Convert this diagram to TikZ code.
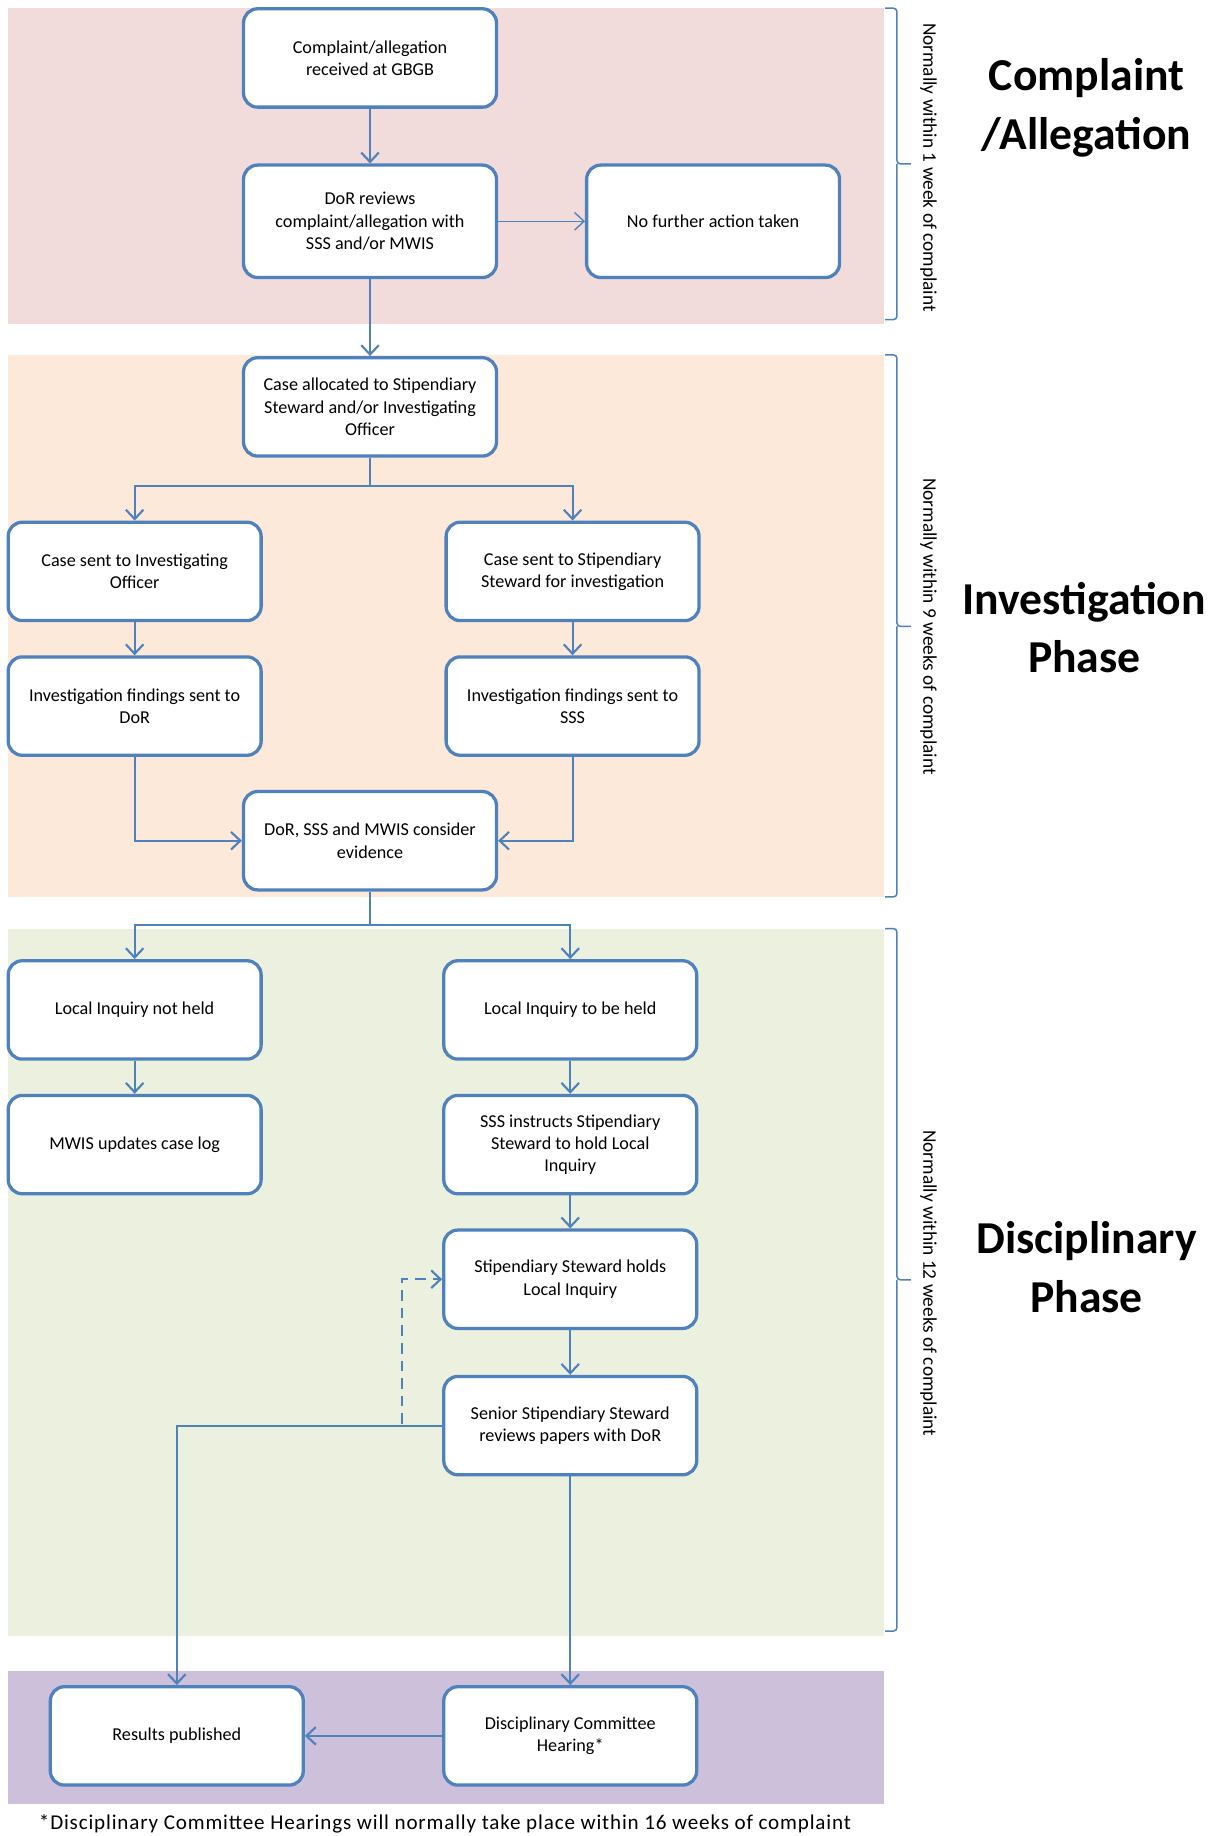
\documentclass[tikz,border=0pt]{standalone}
\usepackage{fontspec}
\setmainfont{Carlito}
\usetikzlibrary{arrows.meta}
\definecolor{flowblue}{HTML}{4F81BD}
\definecolor{pinkband}{HTML}{F2DCDB}
\definecolor{peachband}{HTML}{FDE9D9}
\definecolor{greenband}{HTML}{EBF1DE}
\definecolor{purpleband}{HTML}{CCC0DA}
\tikzset{
  stage/.style={draw=flowblue, line width=2.8pt, fill=white, rounded corners=12pt,
    minimum width=216pt, minimum height=84pt, align=center,
    font=\fontsize{15.5}{19}\selectfont},
  flow/.style={draw=flowblue, line width=1.8pt, -{Straight Barb[length=8pt,width=15pt]}},
  bracket/.style={draw=flowblue, line width=1.3pt, rounded corners=3pt},
  span/.style={rotate=-90, font=\fontsize{16.5}{18}\selectfont},
  phase/.style={align=center, font=\fontsize{39}{50}\selectfont\bfseries}
}
\begin{document}
\begin{tikzpicture}[x=1pt, y=-1pt, color = {black}]
    \useasboundingbox (0,0) rectangle (1042,1568);
    \fill[pinkband] (7,7) rectangle (755,277);
    \fill[peachband] (7,303) rectangle (755,766);
    \fill[greenband] (7,793) rectangle (755,1397);
    \fill[purpleband] (7,1427) rectangle (755,1541);

    \node[stage] (recv) at (316,49.5) {Complaint/allegation\\received at GBGB};
    \node[stage, minimum height=96pt] (review) at (316,189) {DoR reviews\\complaint/allegation with\\SSS and/or MWIS};
    \node[stage, minimum height=96pt] (nofurther) at (609,189) {No further action taken};
    \node[stage] (alloc) at (316,347.5) {Case allocated to Stipendiary\\Steward and/or Investigating\\Officer};
    \node[stage] (sentio) at (115,488) {Case sent to Investigating\\Officer};
    \node[stage] (sentss) at (489,488) {Case sent to Stipendiary\\Steward for investigation};
    \node[stage] (finddor) at (115,603) {Investigation findings sent to\\DoR};
    \node[stage] (findsss) at (489,603) {Investigation findings sent to\\SSS};
    \node[stage] (consider) at (316,718) {DoR, SSS and MWIS consider\\evidence};
    \node[stage] (notheld) at (115,862.5) {Local Inquiry not held};
    \node[stage] (beheld) at (487,862.5) {Local Inquiry to be held};
    \node[stage] (mwis) at (115,977.5) {MWIS updates case log};
    \node[stage] (instructs) at (487,977.5) {SSS instructs Stipendiary\\Steward to hold Local\\Inquiry};
    \node[stage] (holds) at (487,1092.5) {Stipendiary Steward holds\\Local Inquiry};
    \node[stage] (senior) at (487,1217.5) {Senior Stipendiary Steward\\reviews papers with DoR};
    \node[stage] (results) at (151,1482.5) {Results published};
    \node[stage] (hearing) at (487,1482.5) {Disciplinary Committee\\Hearing*};

    \coordinate (split1) at (316,415);
    \coordinate (split2) at (316,790);
    \coordinate (loop) at (343,1216);
    \draw[flow] (recv) -- (review);
    \draw[flow, line width=1.2pt] (review) -- (nofurther);
    \draw[flow] (review) -- (alloc);
    \draw[flow] (alloc.south) -- (split1) -| (sentio.north);
    \draw[flow] (split1) -| (sentss.north);
    \draw[flow] (sentio) -- (finddor);
    \draw[flow] (sentss) -- (findsss);
    \draw[flow] (finddor.south) |- (consider.west);
    \draw[flow] (findsss.south) |- (consider.east);
    \draw[flow] (consider.south) -- (split2) -| (notheld.north);
    \draw[flow] (split2) -| (beheld.north);
    \draw[flow] (notheld) -- (mwis);
    \draw[flow] (beheld) -- (instructs);
    \draw[flow] (instructs) -- (holds);
    \draw[flow] (holds) -- (senior);
    \draw[flow, dash pattern=on 9pt off 6pt] (loop) |- (holds.west);
    \draw[flow] (senior.west) -| (results.north);
    \draw[flow] (senior) -- (hearing);
    \draw[flow] (hearing) -- (results);

    \draw[bracket] (756,7) -| (766,140) -- (778,140) (766,140) |- (756,273);
    \draw[bracket] (756,303) -| (766,535) -- (778,535) (766,535) |- (756,766);
    \draw[bracket] (756,793) -| (766,1093) -- (778,1093) (766,1093) |- (756,1393);
    \node[span] (span1) at (793,143) {Normally within 1 week of complaint};
    \node[span] (span2) at (793,535) {Normally within 9 weeks of complaint};
    \node[span] (span3) at (793,1096) {Normally within 12 weeks of complaint};
    \node[phase] (phase1) at (928,92) {Complaint\\/Allegation};
    \node[phase] (phase2) at (926,536) {Investigation\\Phase};
    \node[phase] (phase3) at (928,1082) {Disciplinary\\Phase};
    \node[font=\fontsize{18}{19}\selectfont\addfontfeature{LetterSpace=4}] (note) at (380,1558) {*Disciplinary Committee Hearings will normally take place within 16 weeks of complaint};
\end{tikzpicture}
\end{document}
